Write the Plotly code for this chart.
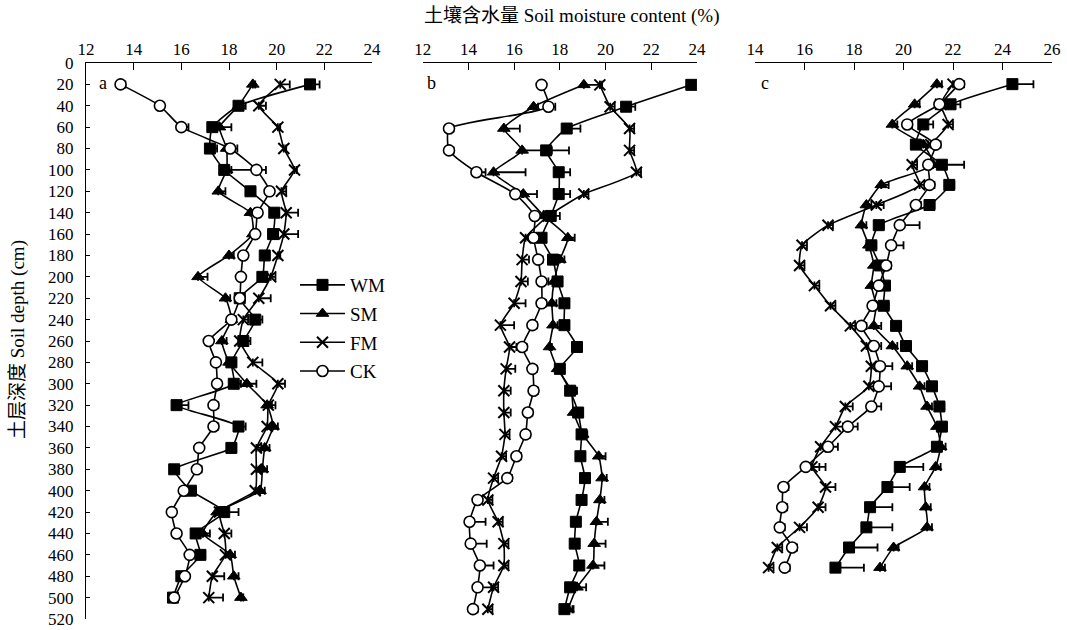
import plotly.graph_objects as go

# Soil depth of each sampling layer (cm)
depth = [20, 40, 60, 80, 100, 120, 140, 160, 180, 200, 220, 240, 260,
         280, 300, 320, 340, 360, 380, 400, 420, 440, 460, 480, 500]

# Panel a: soil moisture content (%)
a_wm = [21.4, 18.4, 17.3, 17.2, 17.8, 18.9, 19.9, 19.85, 19.5, 19.4, 18.45, 19.1, 18.6,
        18.1, 18.2, 15.8, 18.4, 18.1, 15.7, 16.4, 17.8, 16.6, 16.8, 16.0, 15.65]
a_sm = [19.0, 18.4, 17.6, 17.9, 17.9, 17.55, 18.9, 19.0, 18.0, 16.7, 17.85, 18.1, 17.7,
        18.0, 18.75, 19.6, 19.85, 19.5, 19.4, 19.3, 17.5, 16.9, 18.05, 18.2, 18.5]
a_fm = [20.15, 19.25, 20.05, 20.3, 20.75, 20.2, 20.4, 20.3, 20.05, 19.75, 19.25, 18.6, 18.45,
        19.0, 20.05, 19.65, 19.6, 19.15, 19.15, 19.1, 17.6, 17.8, 17.85, 17.3, 17.15]
a_ck = [13.45, 15.1, 16.0, 18.05, 19.15, 19.7, 19.2, 19.1, 18.6, 18.5, 18.45, 18.1, 17.15,
        17.45, 17.5, 17.35, 17.35, 16.75, 16.65, 16.1, 15.6, 15.8, 16.35, 16.15, 15.7]

# Panel b
b_wm = [23.75, 20.9, 18.3, 17.4, 17.95, 17.95, 17.6, 17.2, 17.7, 17.9, 18.2, 18.2, 18.75,
        18.0, 18.45, 18.8, 18.95, 18.9, 19.1, 18.95, 18.7, 18.65, 18.85, 18.45, 18.2]
b_sm = [19.05, 16.85, 15.55, 16.35, 15.1, 16.4, 17.3, 18.35, 18.0, 17.75, 17.65, 17.7, 17.55,
        17.9, 18.5, 18.6, 19.0, 19.7, 19.85, 19.75, 19.6, 19.5, 19.45, 18.75, 18.35]
b_fm = [19.75, 20.2, 21.05, 21.05, 21.35, 19.05, 17.5, 16.5, 16.35, 16.3, 16.0, 15.4, 15.8,
        15.65, 15.55, 15.55, 15.6, 15.45, 15.1, 14.85, 15.3, 15.55, 15.55, 15.1, 14.85]
b_ck = [17.2, 17.5, 13.15, 13.15, 14.35, 16.05, 16.9, 16.85, 17.05, 17.2, 17.2, 16.8, 16.35,
        16.8, 16.85, 16.6, 16.5, 16.1, 15.7, 14.4, 14.05, 14.1, 14.5, 14.4, 14.2]

# Panel c
c_wm = [24.4, 21.9, 20.8, 20.5, 21.55, 21.85, 21.05, 19.0, 18.7, 19.05, 19.25, 19.2, 19.7,
        20.1, 20.75, 21.15, 21.45, 21.55, 21.35, 19.85, 19.35, 18.65, 18.5, 17.8, 17.25]
c_sm = [21.35, 20.45, 19.55, 20.8, 21.2, 19.1, 18.5, 18.3, 18.6, 18.8, 18.7, 18.9, 18.8,
        19.55, 20.15, 20.65, 20.95, 21.35, 21.5, 21.3, 20.85, 20.9, 20.95, 19.6, 19.05]
c_fm = [22.0, 21.5, 21.8, 21.1, 20.35, 20.65, 18.9, 16.95, 15.9, 15.8, 16.4, 17.05, 17.85,
        18.5, 18.7, 18.6, 17.65, 17.25, 16.65, 16.3, 16.85, 16.55, 15.8, 14.9, 14.55]
c_ck = [22.25, 21.45, 20.15, 21.3, 21.0, 21.05, 20.5, 19.85, 19.5, 19.3, 19.0, 18.75, 18.3,
        18.8, 19.05, 19.0, 18.7, 17.75, 16.95, 16.05, 15.15, 15.1, 15.0, 15.5, 15.2]

# One-sided standard errors (%)
a_wm_err = [0.4, 0.3, 0.2, 0.3, 1.2, 0.2, 0.2, 0.2, 0.2, 0.2, 0.2, 0.3, 0.3,
            0.2, 0.3, 0.5, 0.3, 0.2, 0.2, 0.2, 0.6, 0.3, 0.2, 0.2, 0.2]
a_sm_err = [0.1, 0.2, 0.5, 0.2, 0.2, 0.3, 0.2, 0.2, 0.2, 0.4, 0.2, 0.2, 0.2,
            0.2, 0.4, 0.2, 0.2, 0.2, 0.2, 0.2, 0.2, 0.3, 0.2, 0.2, 0.1]
a_fm_err = [0.4, 0.3, 0.1, 0.1, 0.1, 0.2, 0.5, 0.6, 0.1, 0.2, 0.5, 0.2, 0.2,
            0.4, 0.3, 0.3, 0.2, 0.2, 0.2, 0.2, 0.2, 0.3, 0.2, 0.5, 0.6]
a_ck_err = [0.2, 0.1, 0.3, 0.3, 0.4, 0.1, 0.1, 0.1, 0.1, 0.1, 0.1, 0.1, 0.1,
            0.1, 0.1, 0.2, 0.2, 0.1, 0.2, 0.1, 0.1, 0.1, 0.1, 0.1, 0.1]
b_wm_err = [0.1, 0.4, 0.6, 1.0, 0.5, 0.5, 0.4, 0.1, 0.2, 0.2, 0.2, 0.2, 0.1,
            0.1, 0.3, 0.2, 0.1, 0.1, 0.1, 0.1, 0.1, 0.1, 0.1, 0.2, 0.4]
b_sm_err = [0.7, 0.2, 0.7, 1.3, 1.4, 0.6, 0.3, 0.3, 0.2, 0.2, 0.2, 0.2, 0.1,
            0.2, 0.2, 0.2, 0.2, 0.3, 0.2, 0.2, 0.5, 0.5, 0.5, 0.4, 0.2]
b_fm_err = [0.1, 0.2, 0.2, 0.2, 0.2, 0.2, 0.2, 0.2, 0.3, 0.3, 0.5, 0.6, 0.3,
            0.4, 0.3, 0.3, 0.2, 0.2, 0.2, 0.2, 0.2, 0.2, 0.2, 0.2, 0.2]
b_ck_err = [0.1, 0.3, 0.2, 0.2, 0.4, 0.3, 0.1, 0.2, 0.2, 0.3, 0.2, 0.2, 0.2,
            0.2, 0.2, 0.2, 0.2, 0.2, 0.2, 0.2, 0.7, 0.7, 0.6, 0.6, 0.2]
c_wm_err = [0.85, 0.4, 0.4, 0.2, 0.9, 0.2, 0.2, 0.2, 0.2, 0.2, 0.2, 0.2, 0.2,
            0.2, 0.2, 0.2, 0.2, 0.2, 0.2, 0.95, 0.9, 0.9, 1.05, 1.15, 1.15]
c_sm_err = [0.2, 0.2, 0.2, 0.2, 0.2, 0.3, 0.2, 0.2, 0.2, 0.2, 0.2, 0.3, 0.3,
            0.2, 0.2, 0.2, 0.2, 0.2, 0.2, 0.2, 0.2, 0.2, 0.2, 0.2, 0.2]
c_fm_err = [0.2, 0.2, 0.2, 0.2, 0.2, 0.2, 0.3, 0.2, 0.2, 0.2, 0.2, 0.2, 0.2,
            0.2, 0.2, 0.2, 0.3, 0.3, 0.4, 0.3, 0.4, 0.3, 0.3, 0.2, 0.2]
c_ck_err = [0.2, 0.2, 0.2, 0.2, 0.2, 0.2, 0.2, 0.8, 0.5, 0.2, 0.2, 0.2, 0.2,
            0.3, 0.5, 0.5, 0.4, 0.4, 0.4, 0.8, 0.2, 0.2, 0.2, 0.2, 0.2]

treatments = ["WM", "SM", "FM", "CK"]
panel_labels = ["a", "b", "c"]
x_title = "土壤含水量 Soil moisture content (%)"
y_title = "土层深度 Soil depth (cm)"
depth_ticks = list(range(0, 521, 20))

SERIF = "Liberation Serif, Times New Roman, Noto Sans CJK SC, serif"

marker_style = {
    "WM": dict(symbol="square", size=11, color="black", line=dict(color="black", width=1)),
    "SM": dict(symbol="triangle-up", size=11, color="black", line=dict(color="black", width=1)),
    "FM": dict(symbol="x-thin", size=11, color="black", line=dict(color="black", width=2)),
    "CK": dict(symbol="circle", size=11, color="white", line=dict(color="black", width=1.6)),
}

panels = [
    ("x", "y", {"WM": (a_wm, a_wm_err), "SM": (a_sm, a_sm_err), "FM": (a_fm, a_fm_err), "CK": (a_ck, a_ck_err)}),
    ("x2", "y2", {"WM": (b_wm, b_wm_err), "SM": (b_sm, b_sm_err), "FM": (b_fm, b_fm_err), "CK": (b_ck, b_ck_err)}),
    ("x3", "y3", {"WM": (c_wm, c_wm_err), "SM": (c_sm, c_sm_err), "FM": (c_fm, c_fm_err), "CK": (c_ck, c_ck_err)}),
]

fig = go.Figure()
for pi, (xa, ya, series) in enumerate(panels):
    for name in treatments:
        vals, err = series[name]
        fig.add_trace(go.Scatter(
            x=vals, y=depth, xaxis=xa, yaxis=ya, name=name,
            mode="lines+markers",
            line=dict(color="black", width=1.6, shape="spline", smoothing=0.5),
            marker=marker_style[name],
            error_x=dict(type="data", array=err, arrayminus=[0] * len(err), symmetric=False,
                         color="black", thickness=1.8, width=4),
            showlegend=(pi == 0), legendgroup=name,
        ))

# Plot area geometry
ML, MR, MT, MB = 86, 15, 63, 11
W, H = 1067, 630
PW = W - ML - MR
PH = H - MT - MB
px = lambda p: (p - ML) / PW
py = lambda p: 1 - (p - MT) / PH

axis_common = dict(side="top", showline=True, linecolor="black", linewidth=1,
                   ticks="inside", ticklen=7, tickcolor="black", tickwidth=1,
                   showgrid=False, zeroline=False, dtick=2, automargin=False,
                   tickfont=dict(family=SERIF, size=17, color="black"))

fig.update_layout(
    width=W, height=H,
    margin=dict(l=ML, r=MR, t=MT, b=MB, autoexpand=False),
    paper_bgcolor="white", plot_bgcolor="white",
    xaxis=dict(domain=[0, px(372)], range=[12, 24], anchor="y", **axis_common),
    xaxis2=dict(domain=[px(422.7), px(697)], range=[12, 24], anchor="y2", **axis_common),
    xaxis3=dict(domain=[px(755), 1.0], range=[14, 26], anchor="y3", **axis_common),
    yaxis=dict(range=[520, 0], tickvals=depth_ticks, showline=True, linecolor="black",
               linewidth=1, ticks="inside", ticklen=4, tickcolor="black",
               ticklabelstandoff=8, automargin=False,
               showgrid=False, zeroline=False, anchor="x",
               tickfont=dict(family=SERIF, size=17, color="black")),
    yaxis2=dict(range=[509, 0], overlaying="y", visible=False, anchor="x2", automargin=False),
    yaxis3=dict(range=[551, -1], overlaying="y", visible=False, anchor="x3", automargin=False),
    legend=dict(x=px(295), y=py(266), xanchor="left", yanchor="top",
                bgcolor="rgba(0,0,0,0)", tracegroupgap=1, itemwidth=45,
                font=dict(family=SERIF, size=19, color="black")),
    font=dict(family=SERIF, color="black"),
)

fig.add_annotation(text=x_title, x=px(572), y=py(16), xref="paper", yref="paper",
                   xanchor="center", yanchor="middle", showarrow=False,
                   font=dict(family=SERIF, size=19, color="black"))
fig.add_annotation(text=y_title, x=px(18), y=py(340), xref="paper", yref="paper",
                   xanchor="center", yanchor="middle", showarrow=False, textangle=-90,
                   font=dict(family=SERIF, size=19, color="black"))
for lbl, lx in zip(panel_labels, [103, 431, 765]):
    fig.add_annotation(text=lbl, x=px(lx), y=py(83), xref="paper", yref="paper",
                       xanchor="center", yanchor="middle", showarrow=False,
                       font=dict(family=SERIF, size=18, color="black"))

fig.write_html("out.html")
